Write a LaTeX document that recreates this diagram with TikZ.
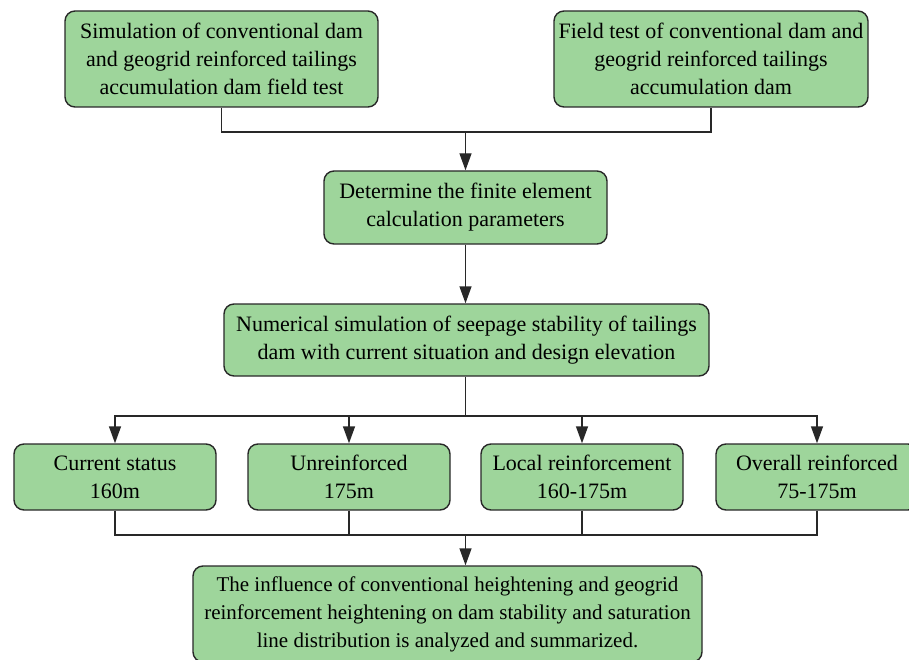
\documentclass[tikz,border=0pt]{standalone}
\usepackage{fontspec}
\setmainfont{Liberation Serif}
\usetikzlibrary{arrows.meta}
\definecolor{boxfill}{RGB}{158,213,155}
\definecolor{boxline}{RGB}{40,40,40}
\begin{document}
\begin{tikzpicture}[x=1pt,y=-1pt,
  box/.style={draw=boxline,line width=1.4pt,fill=boxfill,rounded corners=10pt,
    align=center,inner sep=0pt,font=\fontsize{22}{28}\selectfont},
  conn/.style={draw=boxline,line width=1.4pt},
  arr/.style={conn,-{Triangle[width=12pt,length=17pt]}}]
\useasboundingbox (0,0) rectangle (909,660);
\node[box,minimum width=313pt,minimum height=96pt] (b1) at (221.5,59)
  {Simulation of conventional dam\\and geogrid reinforced tailings\\accumulation dam field test};
\node[box,minimum width=314pt,minimum height=96pt] (b2) at (711,59)
  {Field test of conventional dam and\\geogrid reinforced tailings\\accumulation dam};
\node[box,minimum width=283pt,minimum height=73pt] (b3) at (465.5,207.5)
  {Determine the finite element\\calculation parameters};
\node[box,minimum width=485pt,minimum height=72pt] (b4) at (466.5,340)
  {Numerical simulation of seepage stability of tailings\\dam with current situation and design elevation};
\node[box,minimum width=202pt,minimum height=66pt] (c1) at (115,477) {Current status\\160m};
\node[box,minimum width=202pt,minimum height=66pt] (c2) at (349,477) {Unreinforced\\175m};
\node[box,minimum width=202pt,minimum height=66pt] (c3) at (582,477) {Local reinforcement\\160-175m};
\node[box,minimum width=202pt,minimum height=66pt] (c4) at (817,477) {Overall reinforced\\75-175m};
\node[box,minimum width=509pt,minimum height=96pt,font=\fontsize{21}{28}\selectfont] (b5) at (447.5,614)
  {The influence of conventional heightening and geogrid\\reinforcement heightening on dam stability and saturation\\line distribution is analyzed and summarized.};
% top merge
\coordinate (j1) at (465.5,132);
\draw[conn] (b1.south) |- (j1) -| (b2.south);
\draw[arr] (j1) -- (b3.north);
\draw[arr] (b3.south) -- (b3.south |- b4.north);
% split
\coordinate (j2) at (465.5,416);
\draw[conn] (j2 |- b4.south) -- (j2);
\draw[arr] (j2) -| (c1.north);
\draw[arr] (j2) -| (c2.north);
\draw[arr] (j2) -| (c3.north);
\draw[arr] (j2) -| (c4.north);
% merge
\coordinate (j3) at (465.5,535);
\draw[conn] (c1.south) |- (j3);
\draw[conn] (c2.south) |- (j3);
\draw[conn] (c3.south) |- (j3);
\draw[conn] (c4.south) |- (j3);
\draw[arr] (j3) -- (j3 |- b5.north);
\end{tikzpicture}
\end{document}
